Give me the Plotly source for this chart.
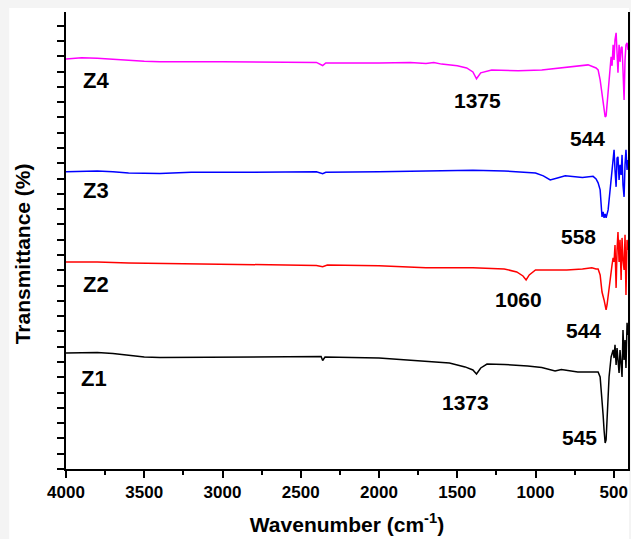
import plotly.graph_objects as go

# ---------------- data ----------------
z1_wn = [4000, 3900, 3800, 3700, 3600, 3500, 3400, 3000, 2600, 2400, 2370, 2360, 2345, 2000,
         1800, 1700, 1550, 1450, 1400, 1377, 1350, 1310, 1200, 1050, 960, 875, 835, 730, 620,
         600, 587, 575, 568, 562, 555, 549, 543, 536, 530, 517, 511, 504, 498, 492, 485, 479,
         473, 466, 460, 453, 447, 441, 434, 428, 422, 415, 409]
z1_t = [75.9, 75.9, 76.3, 75.6, 74.6, 73.3, 73.0, 73.3, 73.6, 73.3, 73.6, 71.0, 73.3, 72.6,
        71.3, 70.4, 69.4, 66.8, 64.8, 62.2, 66.1, 68.7, 68.4, 67.4, 66.4, 64.1, 65.1, 63.5, 63.5,
        63.5, 60.2, 47.1, 35.3, 25.5, 17.0, 19.0, 32.1, 45.2, 60.2, 73.3, 76.6, 77.9, 72.6, 81.2,
        68.1, 79.2, 71.3, 62.8, 77.9, 66.1, 60.2, 91.0, 71.3, 84.4, 66.1, 95.6, 87.7]

z2_wn = [4000, 3800, 3600, 3400, 3000, 2600, 2400, 2360, 2330, 2000, 1700, 1400, 1200, 1120,
         1080, 1060, 1040, 1000, 900, 800, 700, 640, 613,
         600, 587, 581, 575, 562, 549, 543, 536, 524, 517, 511, 504, 498, 492, 485, 479, 473,
         466, 460, 453, 447, 441, 434, 428, 422, 415, 409]
z2_t = [135.5, 135.5, 134.8, 134.5, 134.2, 133.5, 133.2, 132.4, 133.5, 132.9, 131.6, 131.6,
        130.9, 128.9, 126.3, 123.7, 127.0, 130.2, 130.2, 130.2, 130.9, 131.6, 130.9,
        130.9, 127.0, 118.5, 115.8, 110.6, 104.1, 107.3, 113.9, 122.4, 130.2, 133.5, 138.1,
        135.5, 146.6, 118.5, 143.3, 155.1, 135.5, 149.9, 123.7, 151.2, 136.8, 130.2, 153.2,
        113.9, 149.9, 143.3]

z3_wn = [4000, 3900, 3800, 3700, 3600, 3400, 3200, 3000, 2600, 2400, 2360, 2340, 2000, 1700,
         1400, 1200, 1000, 950, 906, 860, 810, 700, 632, 613,
         600, 587, 581, 575, 568, 562, 555, 549, 536, 524, 511, 504, 498, 492, 485, 479, 473,
         466, 460, 453, 447, 441, 434, 428, 422, 415, 409]
z3_t = [194.4, 194.7, 195.0, 194.4, 193.7, 193.4, 194.1, 194.1, 194.4, 194.4, 193.2, 194.1,
        194.4, 195.0, 195.4, 195.0, 193.7, 191.8, 189.1, 190.4, 191.8, 190.8, 191.5, 189.8,
        187.2, 182.6, 169.5, 164.9, 168.2, 164.3, 166.9, 164.3, 169.5, 182.6, 193.7, 202.2,
        208.8, 195.7, 184.6, 203.5, 204.2, 189.1, 199.0, 192.4, 205.5, 185.9, 178.0, 199.0,
        208.8, 195.7, 202.2]

z4_wn = [4000, 3900, 3800, 3700, 3600, 3500, 3400, 3000, 2600, 2400, 2360, 2340, 2000, 1800,
         1700, 1650, 1600, 1500, 1440, 1400, 1377, 1350, 1280, 1110, 960, 770, 664, 613,
         600, 587, 575, 562, 555, 549, 543, 530, 517, 511, 504, 498, 492, 485, 479, 473, 466,
         460, 453, 447, 441, 434, 428, 422, 415, 409]
z4_t = [268.3, 269.0, 268.8, 268.3, 267.4, 266.7, 266.4, 266.4, 266.0, 266.0, 264.0, 265.7,
        265.7, 266.0, 265.3, 265.9, 264.9, 263.8, 262.4, 259.8, 255.3, 259.2, 261.1, 260.5,
        261.1, 263.1, 264.4, 262.4,
        261.1, 254.6, 244.8, 235.0, 230.4, 231.0, 238.2, 250.0, 269.7, 263.8, 277.5, 267.7,
        280.8, 285.4, 271.0, 259.3, 277.5, 266.4, 275.5, 276.2, 261.1, 241.5, 267.7, 277.5,
        278.8, 274.2]

series_names = ["Z1", "Z2", "Z3", "Z4"]
series_colors = ["#000000", "#ff0000", "#0000ff", "#ff00ff"]

# series label positions (wavenumber, transmittance)
name_wn = [3919, 3906, 3906, 3906]
name_t = [58.9, 120.4, 182.0, 253.9]

# peak labels
peak_text = ["1375", "544", "558", "1060", "544", "1373", "545"]
peak_wn = [1371, 670, 727, 1109, 695, 1447, 721]
peak_t = [240.9, 216.0, 151.8, 110.6, 90.3, 43.2, 20.3]

x_ticks = [4000, 3500, 3000, 2500, 2000, 1500, 1000, 500]

# ---------------- figure ----------------
fig = go.Figure()
data = [(z1_wn, z1_t), (z2_wn, z2_t), (z3_wn, z3_t), (z4_wn, z4_t)]
for (wn, t), name, col in zip(data, series_names, series_colors):
    fig.add_trace(go.Scatter(x=wn, y=t, mode="lines", name=name,
                             line=dict(color=col, width=1.5), showlegend=False))

FONT = "Liberation Sans, Arial, sans-serif"
ann = []
for name, x, y in zip(series_names, name_wn, name_t):
    ann.append(dict(x=x, y=y, xref="x", yref="y", text=name, showarrow=False,
                    xanchor="left", yanchor="middle",
                    font=dict(family=FONT, size=22, color="black", weight="bold")))
for txt, x, y in zip(peak_text, peak_wn, peak_t):
    ann.append(dict(x=x, y=y, xref="x", yref="y", text=txt, showarrow=False,
                    xanchor="center", yanchor="middle",
                    font=dict(family=FONT, size=21, color="black", weight="bold")))
# y-axis title
ann.append(dict(x=-0.078, y=0.47, xref="paper", yref="paper", text="Transmittance (%)",
                showarrow=False, textangle=-90, xanchor="center", yanchor="middle",
                font=dict(family=FONT, size=21, color="black", weight="bold")))

# light grey frame strip around the image (top and left edges)
W, H = 631, 539
ML, MR, MT, MB = 66, 1, 12, 70
pw, ph = W - ML - MR, H - MT - MB
shapes = [dict(type="rect", xref="paper", yref="paper", layer="below",
               x0=(9 - ML) / pw, x1=(W - ML) / pw,
               y0=-(H - MT - ph) / ph - 0.01, y1=(H - MB - 8) / ph - (H - MT - MB - ph) / ph,
               fillcolor="white", line=dict(width=0))]

fig.update_layout(
    width=W, height=H,
    margin=dict(l=ML, r=MR, t=MT, b=MB),
    paper_bgcolor="#f4f4f4", plot_bgcolor="white",
    annotations=ann, shapes=shapes,
    font=dict(family=FONT, color="black"),
)
fig.update_xaxes(
    range=[4000, 409], tickvals=x_ticks, ticks="outside", ticklen=7, tickwidth=2,
    tickcolor="black", showline=True, linecolor="black", linewidth=2, mirror=False,
    showgrid=False, zeroline=False,
    tickfont=dict(family=FONT, size=17, color="black", weight="bold"),
    minor=dict(dtick=250, tick0=0, ticks="outside", ticklen=4, tickwidth=2, tickcolor="black",
               showgrid=False),
    title=dict(text="Wavenumber (cm<sup>-1</sup>)", standoff=16,
               font=dict(family=FONT, size=21, color="black", weight="bold")),
)
fig.update_yaxes(
    range=[0, 299], dtick=10, tick0=0, ticks="outside", ticklen=7, tickwidth=2,
    tickcolor="black", showline=True, linecolor="black", linewidth=2, mirror=True,
    showgrid=False, zeroline=False, showticklabels=False,
)

fig.write_html("out.html")
